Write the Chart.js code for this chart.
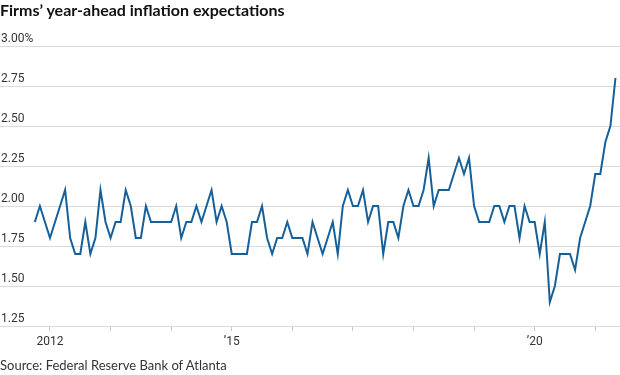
<!DOCTYPE html>
<html><head><meta charset="utf-8">
<script src="https://cdn.jsdelivr.net/npm/chart.js@4.4.1/dist/chart.umd.min.js"></script>
<style>
html,body{margin:0;padding:0;background:#fff;}
#wrap{position:relative;width:620px;height:375px;overflow:hidden;background:#fff;}
#title{position:absolute;left:0;top:0px;font:bold 16px Lato, sans-serif;color:#111;white-space:nowrap;}
#source{position:absolute;left:0;top:357px;font:13px Lato, sans-serif;color:#333;white-space:nowrap;}
canvas{position:absolute;left:0;top:0;}
</style></head><body>
<div id="wrap">
<canvas id="c" width="620" height="375"></canvas>
<div id="title">Firms’ year-ahead inflation expectations</div>
<div id="source">Source: Federal Reserve Bank of Atlanta</div>
</div>
<script>
// Monthly series, starting October 2011
const firstYear = 2011;
const firstMonth = 10;
const expectations = [
  1.9, 2.0, 1.9,                                              // 2011 Oct-Dec
  1.8, 1.9, 2.0, 2.1, 1.8, 1.7, 1.7, 1.9, 1.7, 1.8, 2.1, 1.9,   // 2012
  1.8, 1.9, 1.9, 2.1, 2.0, 1.8, 1.8, 2.0, 1.9, 1.9, 1.9, 1.9,   // 2013
  1.9, 2.0, 1.8, 1.9, 1.9, 2.0, 1.9, 2.0, 2.1, 1.9, 2.0, 1.9,   // 2014
  1.7, 1.7, 1.7, 1.7, 1.9, 1.9, 2.0, 1.8, 1.7, 1.8, 1.8, 1.9,   // 2015
  1.8, 1.8, 1.8, 1.7, 1.9, 1.8, 1.7, 1.8, 1.9, 1.7, 2.0, 2.1,   // 2016
  2.0, 2.0, 2.1, 1.9, 2.0, 2.0, 1.7, 1.9, 1.9, 1.8, 2.0, 2.1,   // 2017
  2.0, 2.0, 2.1, 2.3, 2.0, 2.1, 2.1, 2.1, 2.2, 2.3, 2.2, 2.3,   // 2018
  2.0, 1.9, 1.9, 1.9, 2.0, 2.0, 1.9, 2.0, 2.0, 1.8, 2.0, 1.9,   // 2019
  1.9, 1.7, 1.9, 1.4, 1.5, 1.7, 1.7, 1.7, 1.6, 1.8, 1.9, 2.0,   // 2020
  2.2, 2.2, 2.4, 2.5, 2.8                                     // 2021 Jan-May
];
const yTickValues = [1.25, 1.5, 1.75, 2.0, 2.25, 2.5, 2.75, 3.0];
const xTickYears = [2012, 2013, 2014, 2015, 2016, 2017, 2018, 2019, 2020, 2021];
const xTickLabels = {2012: '2012', 2015: '\u201915', 2020: '\u201920'};

const baseYear = 2012;
const monthIndex = (y, m) => (y - baseYear) * 12 + (m - 1);
const startIdx = monthIndex(firstYear, firstMonth);
const points = expectations.map((v, i) => ({x: startIdx + i, y: v}));

new Chart(document.getElementById('c'), {
  type: 'line',
  data: {
    datasets: [{
      data: points,
      borderColor: '#16609a',
      borderWidth: 2,
      pointRadius: 0,
      tension: 0,
      fill: false
    }]
  },
  options: {
    responsive: false,
    animation: false,
    devicePixelRatio: 1,
    layout: {padding: {top: 46, left: 0, right: 0, bottom: 0}},
    plugins: {legend: {display: false}, tooltip: {enabled: false}, title: {display: false}},
    scales: {
      x: {
        type: 'linear',
        min: -9.9,
        max: 112.9,
        afterBuildTicks: s => { s.ticks = xTickYears.map(y => ({value: monthIndex(y, 1)})); },
        afterFit: s => { s.height = 49; },
        ticks: {
          autoSkip: false, maxRotation: 0, padding: 4,
          font: {family: 'Roboto', size: 12}, color: '#333',
          callback: v => xTickLabels[baseYear + Math.round(v / 12)] || ''
        },
        grid: {display: true, drawOnChartArea: false, drawTicks: true, tickLength: 5, tickColor: '#c8c8c8'},
        border: {display: false}
      },
      y: {
        min: 1.25,
        max: 3.0,
        afterBuildTicks: s => { s.ticks = yTickValues.map(v => ({value: v})); },
        afterFit: s => { s.width = 0; },
        ticks: {
          mirror: true, padding: 1, labelOffset: -7,
          font: {family: 'Roboto', size: 12}, color: '#333',
          callback: v => v === 3 ? v.toFixed(2) + '%' : v.toFixed(2)
        },
        grid: {color: '#dadada', lineWidth: 1, drawTicks: false},
        border: {display: false}
      }
    }
  }
});
</script>
</body></html>
